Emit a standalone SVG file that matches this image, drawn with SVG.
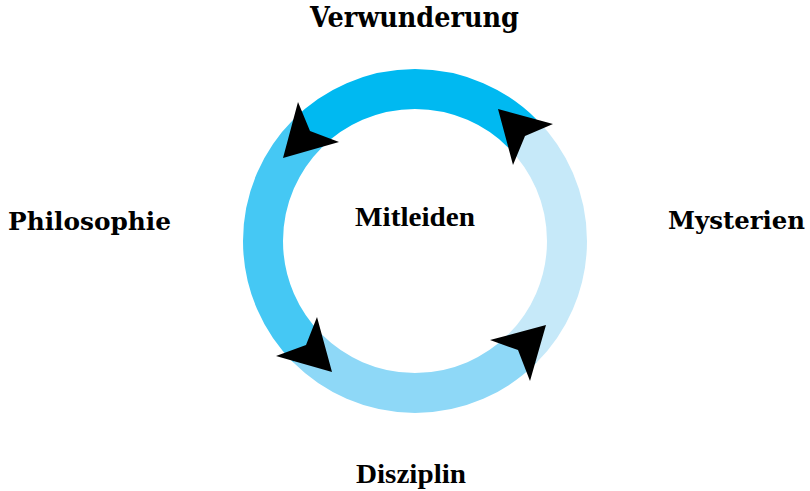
<svg xmlns="http://www.w3.org/2000/svg" width="810" height="491" viewBox="0 0 810 491">
<style>
.lbl{font-family:"DejaVu Serif","Liberation Serif",serif;font-weight:bold;fill:#000;}
.tms{font-family:"Liberation Serif","Times New Roman",serif;font-weight:bold;fill:#000;}
.arc{fill:none;stroke-width:40;stroke-linecap:butt;}
.head{fill:#000;stroke:none;}
</style>
<rect width="810" height="491" fill="#fff"/>
<g id="connectors">
<path class="arc" stroke="#00B9F1" d="M307.52,133.52 A152,152 0 0 1 522.48,133.52"/>
<path class="arc" stroke="#C6E9F9" d="M522.48,133.52 A152,152 0 0 1 522.48,348.48"/>
<path class="arc" stroke="#8ED8F7" d="M522.48,348.48 A152,152 0 0 1 307.52,348.48"/>
<path class="arc" stroke="#45C8F4" d="M307.52,348.48 A152,152 0 0 1 307.52,133.52"/>
<polygon class="head" points="298,102 310,131 339,142 283,158"/>
<polygon class="head" points="553,124 525,136 513,165 498,109"/>
<polygon class="head" points="490,340 518,350 530,381 546,325"/>
<polygon class="head" points="317,317 306,345 276,356 332,372"/>
</g>
<g id="node-verwunderung"><text class="lbl" x="310" y="27" font-size="28" textLength="209" lengthAdjust="spacingAndGlyphs">Verwunderung</text></g>
<g id="node-philosophie"><text class="lbl" x="8" y="230" font-size="24" textLength="163" lengthAdjust="spacingAndGlyphs">Philosophie</text></g>
<g id="node-mysterien"><text class="lbl" x="668" y="229" font-size="24" textLength="137" lengthAdjust="spacingAndGlyphs">Mysterien</text></g>
<g id="node-disziplin"><text class="tms" x="356" y="483" font-size="27" textLength="110" lengthAdjust="spacingAndGlyphs">Disziplin</text></g>
<g id="node-mitleiden"><text class="tms" x="355" y="226" font-size="27" textLength="120" lengthAdjust="spacingAndGlyphs">Mitleiden</text></g>
</svg>
